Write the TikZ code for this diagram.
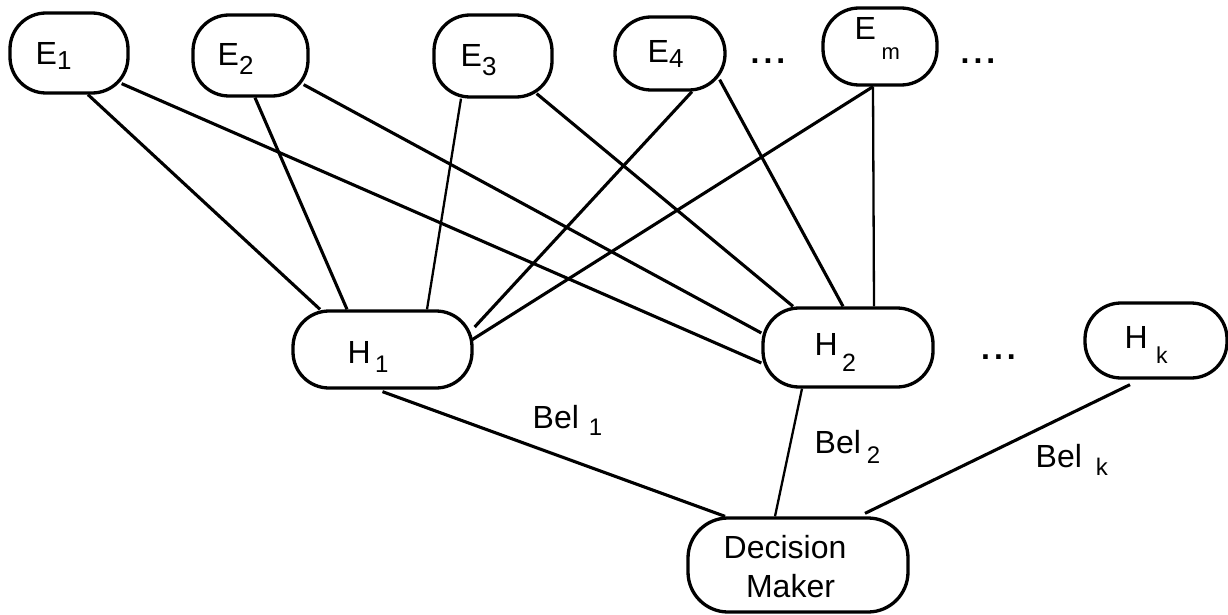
\documentclass[tikz,border=0pt]{standalone}
\usepackage{fontspec}
\setmainfont{Liberation Sans}
\newcommand{\mainsz}{\fontsize{32}{36}\selectfont}
\newcommand{\subsz}{\fontsize{26}{28}\selectfont}
\newcommand{\mysubsc}[2]{\raisebox{-#1pt}{\subsz #2}}
\begin{document}
\begin{tikzpicture}[x=1pt,y=-1pt,
  box/.style={draw, line width=3.3pt, rectangle, rounded corners=36pt, inner sep=0pt},
  conn/.style={line width=3.1pt},
  thin conn/.style={line width=2.3pt},
  txt/.style={inner sep=0pt, anchor=base west, font=\mainsz},
  dots/.style={inner sep=0pt, anchor=base, font=\mainsz\bfseries}]
\useasboundingbox (0,0) rectangle (1228,615);
% boxes
\node[box, minimum width=118pt, minimum height=80pt] (E1) at (69,53) {};
\node[box, minimum width=115pt, minimum height=81pt] (E2) at (250.5,55.5) {};
\node[box, minimum width=118pt, minimum height=82pt] (E3) at (493,56) {};
\node[box, minimum width=110pt, minimum height=73pt] (E4) at (670,53.5) {};
\node[box, minimum width=114pt, minimum height=77pt] (Em) at (880,46.5) {};
\node[box, minimum width=179pt, minimum height=77pt] (H1) at (382.5,349.5) {};
\node[box, minimum width=170pt, minimum height=79pt] (H2) at (848,347.5) {};
\node[box, minimum width=142pt, minimum height=75pt] (Hk) at (1156,340.5) {};
\node[box, minimum width=220pt, minimum height=94pt, rounded corners=40pt] (DM) at (798,565) {};
% labels
\node[txt] (tE1) at (35.5,65) {E\mysubsc{5}{1}};
\node[txt] (tE2) at (217.5,66) {E\mysubsc{9}{2}};
\node[txt] (tE3) at (460.5,67) {E\mysubsc{9}{3}};
\node[txt] (tE4) at (647.5,63) {E\mysubsc{5}{4}};
\node[txt] (tEm) at (854.5,40) {E\hspace{5.5pt}\raisebox{-20pt}{\fontsize{22}{24}\selectfont m}};
\node[txt] (tH1) at (347.4,363) {H\hspace{4.5pt}\raisebox{-9pt}{\fontsize{24}{26}\selectfont 1}};
\node[txt] (tH2) at (814.4,355) {H\hspace{4.5pt}\raisebox{-16pt}{\fontsize{25}{26}\selectfont 2}};
\node[txt] (tHk) at (1124.4,348) {H\hspace{8.5pt}\raisebox{-15pt}{\fontsize{23}{26}\selectfont k}};
\node[txt] (tB1) at (532.5,428) {Bel\hspace{10pt}\raisebox{-7pt}{\fontsize{24}{26}\selectfont 1}};
\node[txt] (tB2) at (814.5,453) {Bel\hspace{6pt}\raisebox{-10pt}{\fontsize{24}{26}\selectfont 2}};
\node[txt] (tBk) at (1035.5,467) {Bel\hspace{14pt}\raisebox{-8pt}{\fontsize{24}{26}\selectfont k}};
\node[inner sep=0pt, anchor=base, font=\mainsz] (tD1) at (785,558) {Decision};
\node[inner sep=0pt, anchor=base, font=\mainsz] (tD2) at (790.5,597) {Maker};
\node[dots] (d1) at (768,64) {.\kern4pt.\kern4pt.};
\node[dots] (d2) at (978,64) {.\kern4pt.\kern4pt.};
\node[dots] (d3) at (998.5,359) {.\kern4pt.\kern4pt.};
% connectors
\draw[conn] ([xshift=19pt]E1.south) -- ([xshift=-62.5pt]H1.north);
\draw[conn] ([xshift=-8pt,yshift=11pt]E1.south east) -- ([yshift=-15.5pt]H2.west);
\draw[conn] ([xshift=4.5pt]E2.south) -- ([xshift=-35.5pt]H1.north);
\draw[conn] ([xshift=-6pt,yshift=13pt]E2.south east) -- ([yshift=14.5pt]H2.west);
\draw[thin conn] ([xshift=-32pt]E3.south) -- ([xshift=44.5pt]H1.north);
\draw[conn] ([xshift=-17pt,yshift=5pt]E3.south east) -- ([xshift=-55pt]H2.north);
\draw[conn] ([xshift=22pt]E4.south) -- ([xshift=1pt,yshift=22.5pt]H1.east);
\draw[conn] ([xshift=-7pt,yshift=12pt]E4.south east) -- ([xshift=-5pt]H2.north);
\draw[conn] ([xshift=-7pt]Em.south) -- ([xshift=-2pt,yshift=9.5pt]H1.east);
\draw[thin conn] ([xshift=-7pt]Em.south) -- ([xshift=26pt]H2.north);
\draw[conn] ([yshift=-2pt]H1.south) -- ([xshift=-73pt]DM.north);
\draw[thin conn] ([xshift=-46pt]H2.south) -- ([xshift=-23pt]DM.north);
\draw[conn] ([xshift=-26pt,yshift=-5pt]Hk.south) -- ([xshift=67pt,yshift=3pt]DM.north);
\end{tikzpicture}
\end{document}
